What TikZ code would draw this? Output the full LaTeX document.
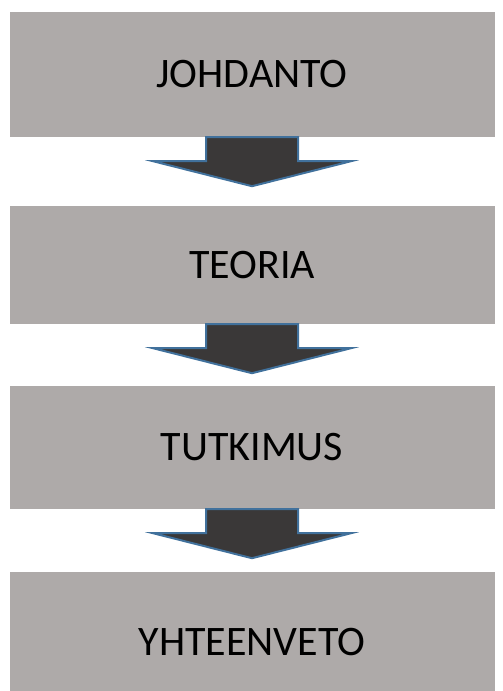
\documentclass[tikz,border=0pt]{standalone}
\usepackage{fontspec}
\setmainfont{Carlito}
\definecolor{boxgray}{RGB}{174,170,169}
\definecolor{arrowfill}{RGB}{58,56,56}
\definecolor{arrowline}{RGB}{65,113,156}
\begin{document}
\begin{tikzpicture}[x=1pt, y=-1pt,
		phase/.style={fill=boxgray, minimum width=485pt, inner sep=0pt, font=\fontsize{42}{50}\selectfont},
		blockarrow/.style={fill=arrowfill, draw=arrowline, line width=2pt, line join=miter}]
		\useasboundingbox (0,0) rectangle (503,691);
		\node[phase, minimum height=125pt] (johdanto) at (252,74.5) {JOHDANTO};
		\node[phase, minimum height=118pt] (teoria) at (252,265) {TEORIA};
		\node[phase, minimum height=123pt] (tutkimus) at (252,447.5) {TUTKIMUS};
		\node[phase, minimum height=141pt] (yhteenveto) at (252,642.5) {YHTEENVETO};
		% block arrows hanging under each box
		\foreach \a in {johdanto, teoria, tutkimus}
			\draw[blockarrow] ([xshift=-46pt]\a.south) -- ++(0,24) -- ++(-53,0) -- ++(99,25) -- ++(99,-25) -- ++(-53,0) -- ++(0,-24) -- cycle;
	\end{tikzpicture}
\end{document}
